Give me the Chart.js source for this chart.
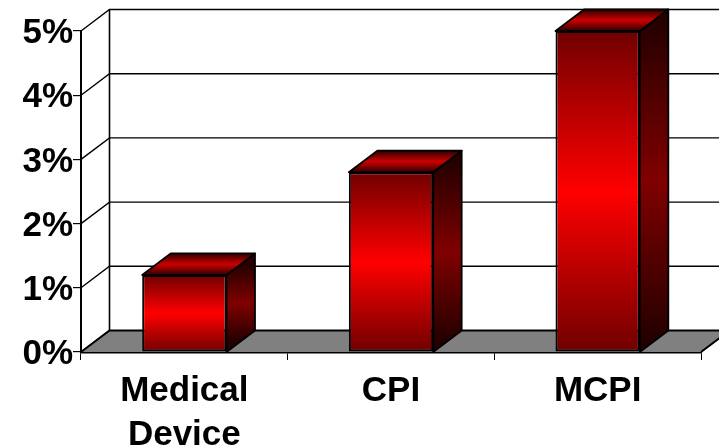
<!DOCTYPE html>
<html><head><meta charset="utf-8">
<script src="https://cdn.jsdelivr.net/npm/chart.js@4"></script>
<style>html,body{margin:0;padding:0;background:#fff}#w{width:719px;height:448px}</style>
</head><body><div id="w"><canvas id="c" width="719" height="448"></canvas></div>
<script>
const categories = [["Medical","Device"],"CPI","MCPI"];
const seriesName = "Change";
const values = [1.2, 2.8, 5.0];
const yTicks = [0,1,2,3,4,5];
const DX = 28.5, DY = 21.5, FONT = '"Liberation Sans", Arial, sans-serif';

function vGrad(ctx, top, bottom, edge, mid){
  if(!isFinite(top)||!isFinite(bottom)) return mid;
  const g = ctx.createLinearGradient(0, top, 0, bottom);
  g.addColorStop(0, edge); g.addColorStop(.5, mid); g.addColorStop(1, edge);
  return g;
}
const poly = (ctx, pts, fill, lw) => {
  ctx.beginPath();
  pts.forEach((p,i)=> i ? ctx.lineTo(p[0],p[1]) : ctx.moveTo(p[0],p[1]));
  ctx.closePath();
  if (fill) { ctx.fillStyle = fill; ctx.fill(); }
  if (lw) { ctx.lineWidth = lw; ctx.strokeStyle = '#000'; ctx.stroke(); }
};
const room = {
  id: 'room',
  beforeDraw(chart){
    chart.scales.y.getLabelItems(chart.chartArea).forEach(i=>{ i.textOffset += 2.5; });
  },
  beforeDatasetsDraw(chart){
    const {ctx, chartArea:a, scales:{y}} = chart;
    const y0 = y.getPixelForValue(0), yT = y.getPixelForValue(yTicks[yTicks.length-1]);
    ctx.save();
    ctx.strokeStyle = '#000'; ctx.lineWidth = 1.4;
    yTicks.forEach(t=>{
      const p = y.getPixelForValue(t);
      ctx.beginPath(); ctx.moveTo(a.left,p); ctx.lineTo(a.left+DX,p-DY);
      if (t>0) ctx.lineTo(a.right+DX,p-DY);
      ctx.stroke();
    });
    ctx.lineWidth = 1.6;
    ctx.beginPath(); ctx.moveTo(a.left+DX,y0-DY); ctx.lineTo(a.left+DX,yT-DY); ctx.stroke();
    poly(ctx,[[a.left,y0],[a.left+DX,y0-DY],[a.right+DX,y0-DY],[a.right,y0]],'#808080',0);
    ctx.lineWidth = 2;
    ctx.beginPath(); ctx.moveTo(a.left,y0); ctx.lineTo(a.left+DX,y0-DY); ctx.lineTo(a.right+DX,y0-DY); ctx.moveTo(a.right,y0); ctx.lineTo(a.right+DX,y0-DY); ctx.stroke();
    ctx.restore();
  },
  afterDatasetsDraw(chart){
    const {ctx, scales:{y}} = chart;
    const y0 = y.getPixelForValue(0);
    ctx.save(); ctx.lineJoin='round';
    chart.getDatasetMeta(0).data.forEach(b=>{
      const {x,y:top,width:w} = b.getProps(['x','y','width'],true);
      const l = x-w/2, r = x+w/2;
      const side = vGrad(ctx, top-DY/2, y0-DY/2, '#240000', '#800000');
      poly(ctx,[[r,top],[r+DX,top-DY],[r+DX,y0-DY],[r,y0]],side,1.8);
      const tg = vGrad(ctx, top-DY, top, '#300000', '#cc0000');
      poly(ctx,[[l,top],[l+DX,top-DY],[r+DX,top-DY],[r,top]],tg,1.8);
    });
    ctx.restore();
  }
};
new Chart(document.getElementById('c'),{
  type:'bar',
  data:{labels:categories,datasets:[{label:seriesName,data:values,clip:false,
    backgroundColor:c=>{
      const y=c.chart.scales.y;
      if(!y||c.raw==null) return '#c00';
      return vGrad(c.chart.ctx,y.getPixelForValue(c.raw),y.getPixelForValue(0),'#700000','#ff0000');
    },
    borderColor:'#000',borderWidth:2,borderSkipped:false,
    barPercentage:.408,categoryPercentage:1}]},
  options:{
    responsive:false,animation:false,
    layout:{padding:{left:0,top:31,right:18,bottom:0}},
    plugins:{legend:{display:false},tooltip:{enabled:false},title:{display:false}},
    scales:{
      x:{offset:true,
        afterFit:s=>{s.height=96;},
        grid:{drawOnChartArea:false,drawTicks:true,tickLength:8,offset:true,color:'#000',lineWidth:1},
        border:{display:true,color:'#000',width:2.5},
        ticks:{color:'#000',autoSkip:false,maxRotation:0,padding:9.5,
          font:{family:FONT,weight:'bold',size:35,lineHeight:1.26}}},
      y:{min:0,max:5,
        afterFit:s=>{s.width=81;},
        afterBuildTicks:s=>{s.ticks=yTicks.map(v=>({value:v}));},
        grid:{drawOnChartArea:false,drawTicks:true,tickLength:8,color:'#000',lineWidth:1.2},
        border:{display:true,color:'#000',width:2},
        ticks:{color:'#000',padding:0,callback:v=>v+'%',
          font:{family:FONT,weight:'bold',size:35}}}
    }
  },
  plugins:[room]
});
</script></body></html>
